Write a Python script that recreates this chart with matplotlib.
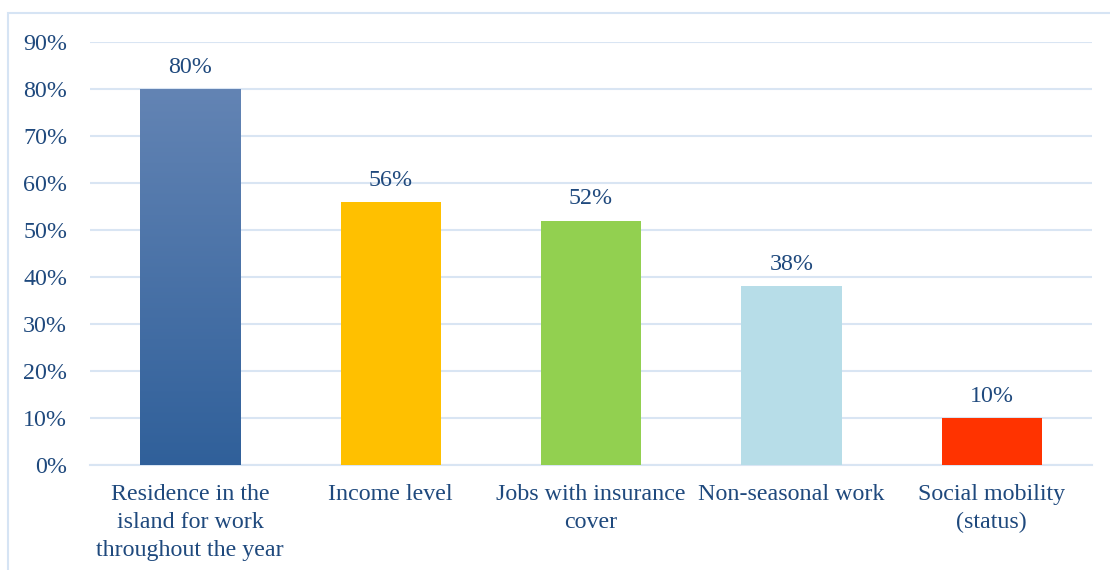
import numpy as np
import matplotlib
matplotlib.use("Agg")
import matplotlib.pyplot as plt
from matplotlib.colors import LinearSegmentedColormap
from matplotlib.patches import Rectangle

categories = ["Residence in the\nisland for work\nthroughout the year", "Income level",
              "Jobs with insurance\ncover", "Non-seasonal work", "Social mobility\n(status)"]
values = [0.80, 0.56, 0.52, 0.38, 0.10]
value_labels = ["80%", "56%", "52%", "38%", "10%"]
yticks = [0, 0.1, 0.2, 0.3, 0.4, 0.5, 0.6, 0.7, 0.8, 0.9]
ytick_labels = ["0%", "10%", "20%", "30%", "40%", "50%", "60%", "70%", "80%", "90%"]
colors = ["#3A67A0", "#FFC000", "#92D050", "#B7DDE8", "#FF3300"]

plt.rcParams['font.family'] = ['Liberation Serif', 'DejaVu Serif']
text_color = "#1F497D"
grid_color = "#D9E5F3"
fs = 17.3

fig = plt.figure(figsize=(11.1, 5.7), dpi=100)
fig.patches.append(Rectangle((8/1110, -0.1), 1.2, (570-13)/570 + 0.1, transform=fig.transFigure,
                             fill=False, edgecolor="#D6E4F4", linewidth=1.5))
ax = fig.add_axes([90/1110, (570-465)/570, 1002/1110, 423/570])

x = np.arange(len(categories))
bars = ax.bar(x, values, width=0.5, color=colors, zorder=3)

# gradient on first bar
b0 = bars[0]
cmap = LinearSegmentedColormap.from_list("g", ["#30609A", "#6384B4"])
grad = np.linspace(0, 1, 256).reshape(-1, 1)
bx, by = b0.get_x(), b0.get_y()
bw, bh = b0.get_width(), b0.get_height()
im = ax.imshow(grad, cmap=cmap, origin="lower", extent=[bx, bx + bw, by, by + bh],
               aspect="auto", zorder=4)
im.set_clip_path(b0)

for xi, v, lab in zip(x, values, value_labels):
    ax.annotate(lab, (xi, v), xytext=(0, 8), textcoords="offset points",
                ha="center", va="bottom", fontsize=fs, color=text_color)

ax.set_xlim(-0.5, len(categories) - 0.5)
ax.set_ylim(0, 0.9)
ax.set_yticks(yticks)
ax.set_yticklabels(ytick_labels)
ax.set_xticks(x)
ax.set_xticklabels(categories, linespacing=1.42)
ax.tick_params(axis="y", length=0, pad=16.5, labelsize=fs, labelcolor=text_color)
ax.tick_params(axis="x", length=0, pad=14, labelsize=fs, labelcolor=text_color)
ax.grid(axis="y", color=grid_color, linewidth=1.5, zorder=0)
for s in ["top", "right", "left"]:
    ax.spines[s].set_visible(False)
ax.spines["bottom"].set_color(grid_color)
ax.spines["bottom"].set_linewidth(1.5)

fig.savefig("out.png", dpi=100)
